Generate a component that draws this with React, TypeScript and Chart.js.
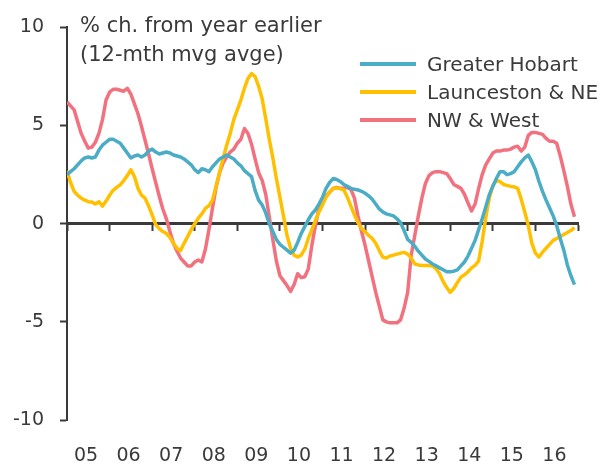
import React, { useEffect, useRef } from 'react';
import { Chart, registerables } from 'chart.js';

Chart.register(...registerables);

const START_YEAR = 2005;
const END_YEAR = 2017;
const xTickLabels = ['05', '06', '07', '08', '09', '10', '11', '12', '13', '14', '15', '16'];
const yMin = -10;
const yMax = 10;
const yStep = 5;

const titleLines = ['% ch. from year earlier', '(12-mth mvg avge)'];
const seriesNames = ['Greater Hobart', 'Launceston & NE', 'NW & West'];
const seriesColors = ['#4BACC6', '#FFC000', '#F2717F'];

// monthly, Jan 2005 - Dec 2016
const greaterHobart = [
  2.5, 2.65, 2.8, 3.0, 3.2, 3.35, 3.4, 3.35, 3.4, 3.75, 4.0, 4.15,
  4.3, 4.3, 4.2, 4.1, 3.85, 3.6, 3.35, 3.45, 3.5, 3.4, 3.5, 3.7,
  3.8, 3.65, 3.55, 3.6, 3.65, 3.6, 3.5, 3.45, 3.4, 3.3, 3.15, 3.0,
  2.75, 2.6, 2.8, 2.75, 2.65, 2.9, 3.1, 3.3, 3.4, 3.5, 3.4, 3.3,
  3.1, 2.95, 2.7, 2.55, 2.4, 1.7, 1.2, 0.95, 0.55, 0.0, -0.4, -0.8,
  -1.05, -1.2, -1.35, -1.5, -1.35, -0.95, -0.5, -0.15, 0.2, 0.5, 0.7, 1.0,
  1.35, 1.8, 2.1, 2.3, 2.25, 2.15, 2.0, 1.9, 1.8, 1.75, 1.72, 1.65,
  1.55, 1.42, 1.25, 1.0, 0.75, 0.6, 0.5, 0.45, 0.4, 0.25, 0.05, -0.35,
  -0.8, -0.95, -1.15, -1.4, -1.6, -1.8, -1.92, -2.05, -2.15, -2.25, -2.35, -2.45,
  -2.45, -2.42, -2.35, -2.15, -1.95, -1.65, -1.25, -0.85, -0.3, 0.25, 0.85, 1.48,
  1.9, 2.3, 2.65, 2.65, 2.5, 2.55, 2.65, 2.9, 3.15, 3.35, 3.5, 3.15,
  2.75, 2.15, 1.65, 1.2, 0.8, 0.4, -0.1, -0.75, -1.35, -2.1, -2.65, -3.1,
];

const launcestonNE = [
  2.7, 2.1, 1.65, 1.45, 1.3, 1.2, 1.12, 1.1, 1.0, 1.12, 0.9, 1.15,
  1.45, 1.7, 1.85, 1.98, 2.2, 2.45, 2.75, 2.4, 1.8, 1.45, 1.3, 0.9,
  0.45, -0.05, -0.25, -0.4, -0.5, -0.7, -1.0, -1.25, -1.37, -1.0, -0.65, -0.3,
  0.0, 0.28, 0.5, 0.78, 0.92, 1.2, 1.9, 2.6, 3.35, 4.0, 4.6, 5.3,
  5.8, 6.3, 6.9, 7.4, 7.65, 7.5, 7.0, 6.35, 5.35, 4.3, 3.35, 2.3,
  1.35, 0.4, -0.6, -1.25, -1.6, -1.7, -1.6, -1.3, -0.75, -0.3, 0.15, 0.6,
  0.95, 1.35, 1.6, 1.8, 1.82, 1.78, 1.73, 1.35, 0.9, 0.45, 0.05, -0.25,
  -0.4, -0.6, -0.75, -1.0, -1.37, -1.7, -1.75, -1.65, -1.6, -1.55, -1.5, -1.46,
  -1.55, -1.75, -2.05, -2.1, -2.13, -2.13, -2.13, -2.15, -2.3, -2.55, -2.95, -3.25,
  -3.5, -3.3, -3.0, -2.72, -2.6, -2.45, -2.25, -2.12, -1.9, -0.9, 0.3, 1.3,
  1.95, 2.2, 2.15, 2.0, 1.95, 1.9, 1.88, 1.8, 1.25, 0.6, -0.1, -1.0,
  -1.5, -1.7, -1.45, -1.25, -1.05, -0.85, -0.75, -0.65, -0.55, -0.45, -0.35, -0.2,
];

const nwWest = [
  6.2, 6.0, 5.8, 5.2, 4.6, 4.2, 3.85, 3.9, 4.15, 4.6, 5.3, 6.3,
  6.7, 6.85, 6.85, 6.8, 6.75, 6.9, 6.6, 6.1, 5.6, 4.95, 4.25, 3.55,
  2.8, 2.1, 1.4, 0.75, 0.25, -0.4, -1.0, -1.4, -1.75, -1.95, -2.15, -2.15,
  -1.95, -1.85, -1.95, -1.3, -0.3, 0.8, 1.85, 2.6, 3.1, 3.4, 3.65, 3.8,
  4.1, 4.3, 4.85, 4.6, 4.05, 3.3, 2.6, 2.2, 1.5, 0.35, -0.8, -1.9,
  -2.65, -2.9, -3.15, -3.45, -3.1, -2.55, -2.75, -2.7, -2.3, -1.1, -0.1, 0.8,
  1.15, 1.4, 1.6, 1.8, 1.85, 1.8, 1.8, 1.85, 1.75, 1.3, 0.4, -0.4,
  -1.1, -1.9, -2.7, -3.5, -4.2, -4.9, -5.0, -5.05, -5.05, -5.05, -4.9, -4.3,
  -3.5, -1.6, -0.6, 0.4, 1.3, 2.05, 2.45, 2.6, 2.65, 2.65, 2.6, 2.55,
  2.3, 2.0, 1.9, 1.8, 1.5, 1.05, 0.65, 1.0, 1.8, 2.5, 3.0, 3.3,
  3.6, 3.7, 3.7, 3.75, 3.75, 3.8, 3.9, 3.95, 3.7, 3.9, 4.5, 4.65,
  4.65, 4.6, 4.55, 4.35, 4.2, 4.2, 4.1, 3.45, 2.7, 1.9, 1.0, 0.35,
];

const seriesValues = [greaterHobart, launcestonNE, nwWest];

const TEXT = '#3a3a3a';
const AXIS = '#3a3a3a';
const FONT = '"DejaVu Sans", sans-serif';

const overlayPlugin = {
  id: 'overlayText',
  afterDraw(chart: any) {
    const ctx = chart.ctx as CanvasRenderingContext2D;
    const area = chart.chartArea;
    ctx.save();
    ctx.fillStyle = TEXT;
    ctx.font = `21px ${FONT}`;
    ctx.textAlign = 'left';
    ctx.textBaseline = 'middle';
    ctx.fillText(titleLines[0], area.left + 13, 27);
    ctx.fillText(titleLines[1], area.left + 13, 56);

    ctx.font = `20px ${FONT}`;
    const rows = [64, 92, 120];
    chart.data.datasets.forEach((ds: any, i: number) => {
      const y = rows[i];
      ctx.strokeStyle = ds.borderColor;
      ctx.lineWidth = 4;
      ctx.beginPath();
      ctx.moveTo(360, y);
      ctx.lineTo(416, y);
      ctx.stroke();
      ctx.fillStyle = TEXT;
      ctx.fillText(ds.label, 427, y + 2);
    });
    ctx.restore();
  },
};

export default function App() {
  const canvasRef = useRef<HTMLCanvasElement | null>(null);

  useEffect(() => {
    if (!canvasRef.current) return;
    const datasets = seriesNames.map((name, i) => ({
      label: name,
      data: seriesValues[i].map((v, m) => ({ x: START_YEAR + m / 12, y: v })),
      borderColor: seriesColors[i],
      backgroundColor: seriesColors[i],
      borderWidth: 3.5,
      pointRadius: 0,
      tension: 0,
      fill: false,
      borderJoinStyle: 'round' as const,
    }));

    const chart = new Chart(canvasRef.current, {
      type: 'line',
      data: { datasets },
      options: {
        animation: false,
        responsive: false,
        layout: { padding: { left: 0, right: 31, top: 25, bottom: 0 } },
        plugins: {
          legend: { display: false },
          title: { display: false },
          tooltip: { enabled: false },
        },
        scales: {
          x: {
            type: 'linear',
            position: 'bottom',
            min: START_YEAR,
            max: END_YEAR,
            border: { display: false },
            grid: { display: false, drawTicks: false },
            ticks: {
              stepSize: 1,
              maxTicksLimit: 20,
              autoSkip: false,
              maxRotation: 0,
              labelOffset: 19,
              padding: 25,
              color: TEXT,
              font: { family: FONT, size: 19 },
              callback: (value: any) => {
                const idx = Math.round(Number(value) - START_YEAR);
                return xTickLabels[idx] ?? '';
              },
            },
            afterFit: (scale: any) => {
              scale.height = 46;
            },
          },
          xZero: {
            type: 'linear',
            axis: 'x',
            position: { y: 0 },
            min: START_YEAR,
            max: END_YEAR,
            border: { display: true, color: AXIS, width: 3 },
            grid: {
              display: true,
              drawOnChartArea: false,
              drawTicks: true,
              tickLength: 6,
              tickWidth: 2,
              tickColor: AXIS,
            },
            ticks: { display: false, stepSize: 1, maxTicksLimit: 20, autoSkip: false },
          },
          y: {
            type: 'linear',
            position: 'left',
            min: yMin,
            max: yMax,
            border: { display: true, color: AXIS, width: 2 },
            grid: {
              display: true,
              drawOnChartArea: false,
              drawTicks: true,
              tickLength: 7,
              tickWidth: 2,
              tickColor: AXIS,
            },
            ticks: {
              stepSize: yStep,
              padding: 16,
              color: TEXT,
              font: { family: FONT, size: 19 },
            },
            afterFit: (scale: any) => {
              scale.width = 67;
            },
          },
        },
      },
      plugins: [overlayPlugin],
    });

    return () => chart.destroy();
  }, []);

  return (
    <div style={{ position: 'fixed', left: 0, top: 0, width: 609, height: 466, background: '#fff' }}>
      <canvas ref={canvasRef} width={609} height={466} />
    </div>
  );
}
